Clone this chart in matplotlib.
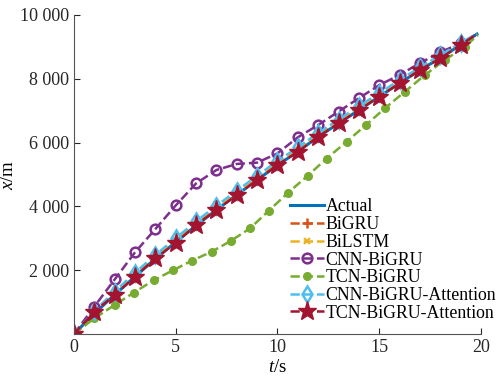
import matplotlib
matplotlib.use('Agg')
import matplotlib.pyplot as plt
from matplotlib.ticker import FuncFormatter

# data
t_main = [0, 1, 2, 3, 4, 5, 6, 7, 8, 9, 10, 11, 12, 13, 14, 15, 16, 17, 18, 19, 19.8]
actual = [0, 640, 1230, 1800, 2360, 2880, 3400, 3890, 4360, 4830, 5290,
          5720, 6180, 6600, 7020, 7440, 7860, 8270, 8650, 9060, 9400]
bigru = [0, 670, 1260, 1830, 2390, 2900, 3430, 3910, 4390, 4850, 5310,
         5750, 6200, 6630, 7050, 7460, 7880, 8290, 8670, 9070, 9400]
bilstm = [0, 720, 1320, 1880, 2420, 2930, 3460, 3950, 4420, 4880, 5340,
          5780, 6230, 6650, 7080, 7490, 7910, 8310, 8700, 9080, 9410]
cnn_bigru = [0, 860, 1710, 2560, 3290, 4030, 4720, 5140, 5330, 5370, 5660,
             6165, 6550, 6970, 7390, 7800, 8120, 8490, 8830, 9110, 9400]
t_tcn = [0, 1.0, 2.0, 2.95, 3.93, 4.88, 5.8, 6.77, 7.7, 8.65, 9.58, 10.53,
         11.48, 12.42, 13.4, 14.35, 15.28, 16.27, 17.25, 18.23, 19.2, 19.85]
tcn_bigru = [0, 490, 910, 1300, 1690, 2000, 2300, 2580, 2915, 3310, 3870, 4430,
             4960, 5500, 6030, 6550, 7075, 7600, 8120, 8590, 9000, 9370]
cnn_att = [0, 720, 1330, 1920, 2480, 3000, 3530, 4020, 4490, 4960, 5420,
           5850, 6300, 6720, 7140, 7550, 7960, 8360, 8740, 9120, 9410]
tcn_att = [0, 700, 1220, 1800, 2370, 2860, 3420, 3890, 4360, 4830, 5300,
           5715, 6185, 6605, 7020, 7440, 7860, 8275, 8640, 9060, 9400]

x_ticks = [0, 5, 10, 15, 20]
y_ticks = [2000, 4000, 6000, 8000, 10000]

plt.rcParams['font.family'] = 'Liberation Serif'
plt.rcParams['font.size'] = 13.5
plt.rcParams['mathtext.fontset'] = 'custom'
plt.rcParams['mathtext.rm'] = 'Liberation Serif'
plt.rcParams['mathtext.it'] = 'Liberation Serif:italic'

fig = plt.figure(figsize=(5.01, 3.83), dpi=100)
ax = fig.add_axes([0.1477, 0.128, 0.8123, 0.833])

mk = slice(0, 20)
ax.plot(t_main, actual, '-', color='#0072BD', lw=2.2, label='Actual')
ax.plot(t_main, bigru, '--', color='#D95319', lw=1.8, marker='+', ms=7, mew=1.8,
        markevery=mk, label='BiGRU')
ax.plot(t_main, bilstm, '--', color='#EDB120', lw=1.8, marker='x', ms=5, mew=1.5,
        markevery=mk, label='BiLSTM')
ax.plot(t_main, cnn_bigru, '--', color='#7E2F8E', lw=1.8, marker='o', ms=7,
        mfc='none', mew=1.8, markevery=mk, label='CNN-BiGRU')
ax.plot(t_tcn, tcn_bigru, '--', color='#77AC30', lw=1.8, marker='o', ms=5.5,
        markevery=slice(0, 21), label='TCN-BiGRU')
ax.plot(t_main, cnn_att, '--', color='#4DBEEE', lw=1.8, marker='d', ms=8,
        mfc='none', mew=1.8, markevery=mk, label='CNN-BiGRU-Attention')
ax.plot(t_main, tcn_att, '--', color='#A2142F', lw=1.8, marker='*', ms=14,
        markevery=mk, label='TCN-BiGRU-Attention')

ax.set_xlim(0, 20)
ax.set_ylim(0, 10000)
ax.set_xticks(x_ticks)
ax.set_yticks(y_ticks)
ax.yaxis.set_major_formatter(FuncFormatter(lambda v, p: f"{v:,.0f}".replace(',', ' ')))
ax.tick_params(direction='in', length=4, colors='#262626', labelsize=13)
for s in ['top', 'right']:
    ax.spines[s].set_visible(False)
for s in ['left', 'bottom']:
    ax.spines[s].set_color('#555555')

ax.set_xlabel(r'$t$/s', labelpad=2)
ax.set_ylabel(r'$x$/m', labelpad=2)

ax.legend(loc='lower left', bbox_to_anchor=(0.561, 0.137), bbox_transform=fig.transFigure,
          frameon=False, borderpad=0, labelspacing=0.04, handlelength=1.9,
          handletextpad=0.1, fontsize=12.8)

fig.savefig('out.png', dpi=100)
